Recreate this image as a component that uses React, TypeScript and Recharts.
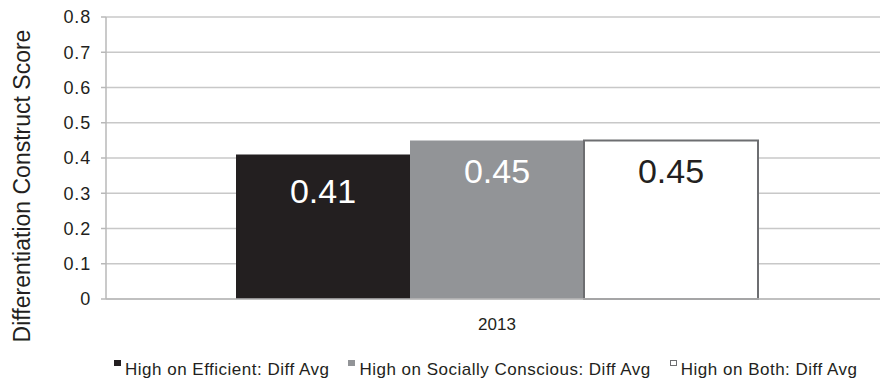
import { Bar, BarChart, CartesianGrid, LabelList, Legend, XAxis, YAxis } from "recharts";

// Differentiation construct score, 2013, by respondent group
const YEARS = ["2013"];
const SERIES_NAMES = [
  "High on Efficient: Diff Avg",
  "High on Socially Conscious: Diff Avg",
  "High on Both: Diff Avg",
];
const EFFICIENT = [0.41];
const SOCIALLY_CONSCIOUS = [0.45];
const BOTH = [0.45];
const Y_TICKS = [0, 0.1, 0.2, 0.3, 0.4, 0.5, 0.6, 0.7, 0.8];

const DATA = YEARS.map((year, i) => ({
  year,
  efficient: EFFICIENT[i],
  social: SOCIALLY_CONSCIOUS[i],
  both: BOTH[i],
}));

const FONT = "'Liberation Sans', Arial, Helvetica, sans-serif";
const INK = "#231f20";
const AXIS = "#b8b8b8";
const GRID = "#c8c8c8";

function LegendRow(props: any) {
  // keep series order rather than the legend's alphabetical sort
  const items = [...(props.payload ?? [])].sort(
    (a: any, b: any) => SERIES_NAMES.indexOf(a.value) - SERIES_NAMES.indexOf(b.value),
  );
  return (
    <div
      style={{
        display: "flex",
        height: 34,
        boxSizing: "border-box",
        paddingTop: 17,
        paddingLeft: 114,
        fontFamily: FONT,
        fontSize: 17,
        letterSpacing: 0.5,
        lineHeight: "17px",
        color: INK,
        whiteSpace: "nowrap",
      }}
    >
      {items.map((item: any) => {
        const stroke = item.payload?.stroke;
        return (
          <div key={item.value} style={{ display: "flex", alignItems: "flex-start", marginRight: 19 }}>
            <span
              style={{
                display: "inline-block",
                width: 7,
                height: 6,
                marginTop: -1,
                marginRight: 4,
                boxSizing: "border-box",
                background: item.color,
                border: stroke ? `1px solid ${stroke}` : "none",
              }}
            />
            <span>{item.value}</span>
          </div>
        );
      })}
    </div>
  );
}

function YTitle(props: any) {
  const vb = props.viewBox ?? { x: 0, y: 0, width: 0, height: 0 };
  const cx = 22;
  const cy = vb.y + vb.height / 2 + 28;
  return (
    <text
      x={cx}
      y={cy}
      transform={`rotate(-90, ${cx}, ${cy})`}
      textAnchor="middle"
      dominantBaseline="central"
      fontFamily={FONT}
      fontSize={23}
      fill={INK}
    >
      Differentiation Construct Score
    </text>
  );
}

export default function App() {
  return (
    <div style={{ width: 880, height: 378, overflow: "hidden", background: "#fff" }}>
      <style>{`body{margin:0}`}</style>
      <BarChart
        width={888}
        height={378}
        data={DATA}
        margin={{ top: 17, right: 0, bottom: 0, left: 0 }}
        barCategoryGap={130}
        barGap={0}
      >
        <CartesianGrid vertical={false} stroke={GRID} strokeWidth={1.5} />
        <XAxis
          dataKey="year"
          height={45}
          tickLine={false}
          tickSize={0}
          tickMargin={19}
          stroke={AXIS}
          strokeWidth={1.5}
          tick={{ fill: INK, fontSize: 17, fontFamily: FONT }}
        />
        <YAxis
          width={106}
          domain={[0, 0.8]}
          ticks={Y_TICKS}
          interval={0}
          tickSize={5}
          tickMargin={10}
          stroke={AXIS}
          strokeWidth={1.5}
          tick={{ fill: INK, fontSize: 18, fontFamily: FONT, letterSpacing: 0.8 }}
          tickFormatter={(v: number) => (v === 0 ? "0" : v.toFixed(1))}
          label={{ content: YTitle }}
        />
        <Legend verticalAlign="bottom" content={LegendRow} />
        <Bar dataKey="efficient" name={SERIES_NAMES[0]} fill={INK} isAnimationActive={false}>
          <LabelList
            dataKey="efficient"
            position="insideTop"
            offset={24}
            fill="#ffffff"
            fontSize={34}
            fontFamily={FONT}
          />
        </Bar>
        <Bar dataKey="social" name={SERIES_NAMES[1]} fill="#929497" isAnimationActive={false}>
          <LabelList
            dataKey="social"
            position="insideTop"
            offset={18}
            fill="#ffffff"
            fontSize={34}
            fontFamily={FONT}
          />
        </Bar>
        <Bar
          dataKey="both"
          name={SERIES_NAMES[2]}
          fill="#ffffff"
          stroke="#6d6e71"
          strokeWidth={2}
          isAnimationActive={false}
        >
          <LabelList
            dataKey="both"
            position="insideTop"
            offset={18}
            fill={INK}
            stroke="none"
            fontSize={34}
            fontFamily={FONT}
          />
        </Bar>
      </BarChart>
    </div>
  );
}
